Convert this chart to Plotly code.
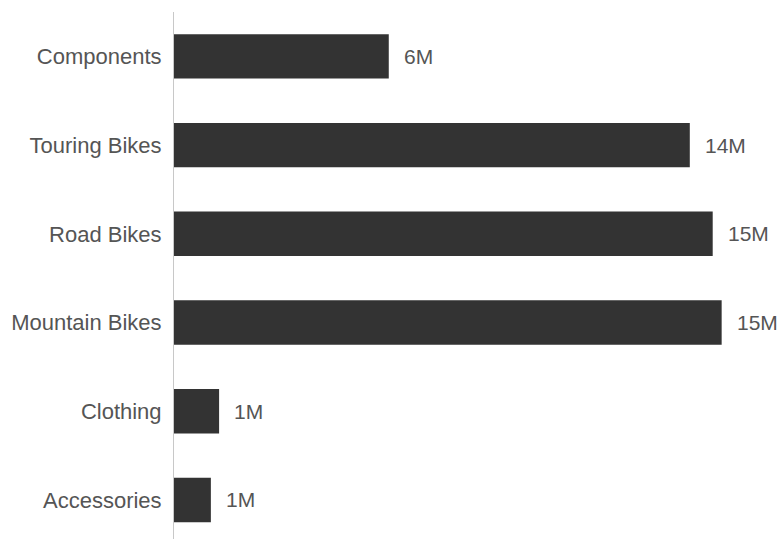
import plotly.graph_objects as go

categories = ["Accessories", "Clothing", "Mountain Bikes", "Road Bikes", "Touring Bikes", "Components"]
sales = [1.03e6, 1.26e6, 15.3e6, 15.05e6, 14.41e6, 6.0e6]
labels = [f"{round(v / 1e6)}M" for v in sales]

font_family = "Liberation Sans, Arial, sans-serif"
text_color = "#555555"

fig = go.Figure()
fig.add_trace(go.Bar(
    x=sales, y=categories, orientation="h",
    marker=dict(color="#333333", line=dict(width=0)),
    width=0.5, hoverinfo="skip",
))

for v, c, t in zip(sales, categories, labels):
    fig.add_annotation(x=v, y=c, text=t, showarrow=False, xanchor="left",
                       xshift=13, font=dict(family=font_family, size=21, color=text_color))

fig.update_layout(
    width=780, height=539,
    margin=dict(l=174, r=0, t=12, b=0),
    paper_bgcolor="white", plot_bgcolor="white",
    showlegend=False,
    xaxis=dict(range=[0, 16.93e6], visible=False, fixedrange=True),
    yaxis=dict(
        categoryorder="array", categoryarray=categories,
        range=[-0.44, 5.5],
        showline=True, linecolor="#c8c8c8", linewidth=1,
        showgrid=False, zeroline=False, ticks="",
        ticklabelstandoff=7,
        tickfont=dict(family=font_family, size=22, color=text_color),
        fixedrange=True,
    ),
)

fig.write_html("out.html")
